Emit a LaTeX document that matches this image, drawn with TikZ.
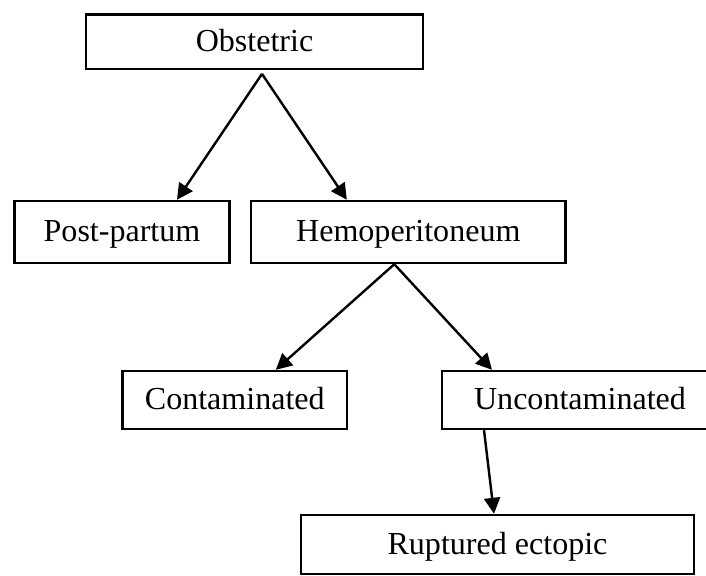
\documentclass[tikz,border=0pt]{standalone}
\usepackage{fontspec}
\setmainfont{Liberation Serif}
\usetikzlibrary{arrows.meta,calc}
\tikzset{
  >={Triangle[length=4mm,width=4mm]},
  cbox/.style={draw=black,line width=0.6mm,inner sep=0pt,align=center,
    font=\fontsize{22.8}{26}\selectfont,text height=6.4mm,text depth=1.5mm},
  arr/.style={->,draw=black,line width=0.6mm},
}
\begin{document}
\begin{tikzpicture}[x=0.25mm,y=-0.25mm]
\clip (0,0) rectangle (706,575);
\node[cbox,minimum width=84.25mm,minimum height=13.6mm] (obst) at (254.5,41.9) {Obstetric};
\node[cbox,minimum width=53.8mm,minimum height=15.5mm] (post) at (122,232) {Post-partum};
\node[cbox,minimum width=78.6mm,minimum height=15.5mm] (hemo) at (408.3,232) {Hemoperitoneum};
\node[cbox,minimum width=56.1mm,minimum height=14.5mm] (cont) at (234.8,400) {Contaminated};
\node[cbox,minimum width=69mm,minimum height=14.5mm] (uncont) at (580,400) {Uncontaminated};
\node[cbox,minimum width=98.25mm,minimum height=14.75mm] (rupt) at (497.5,544.5) {Ruptured ectopic};
% connectors
\draw[arr] ($(obst.south)+(7.5,3.6)$) -- ($(post.north)+(55,0)$);
\draw[arr] ($(obst.south)+(7.5,3.6)$) -- ($(hemo.north)+(-61.5,0)$);
\draw[arr] ($(hemo.south)+(-14,0)$) -- ($(cont.north)+(41,0)$);
\draw[arr] ($(hemo.south)+(-14,0)$) -- ($(uncont.north)+(-88,0)$);
\draw[arr] ($(uncont.south)+(-96,0)$) -- ($(rupt.north)+(-3.5,0)$);
\end{tikzpicture}
\end{document}
